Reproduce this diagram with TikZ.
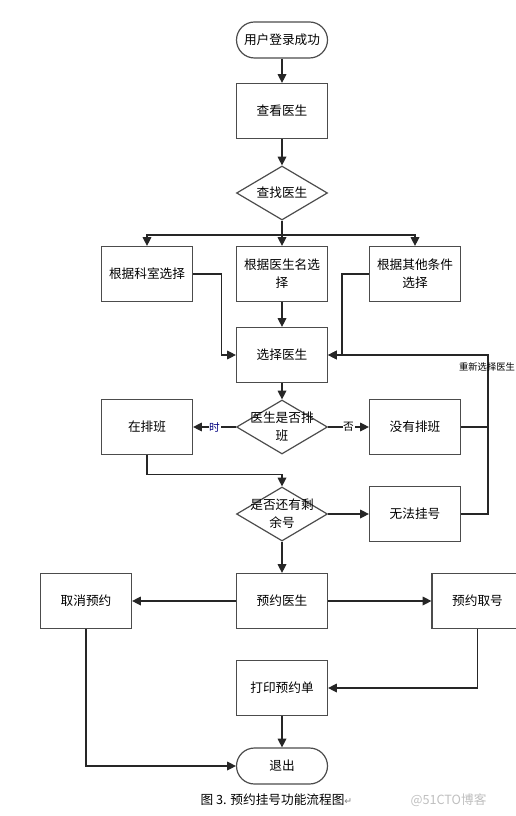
\documentclass[tikz,border=0pt]{standalone}
\usepackage{fontspec}
\newfontfamily\cjk{Noto Sans CJK SC}
\newfontfamily\symf{DejaVu Sans}
\usetikzlibrary{arrows.meta,shapes.geometric}
\begin{document}
\begin{tikzpicture}[x=0.75pt,y=-0.75pt,
  font=\cjk\fontsize{9.5}{13.5}\selectfont,
  line width=0.9pt,
  box/.style={draw=black!70, line width=0.9pt, minimum width=68.25pt, minimum height=41.25pt, inner sep=1pt, align=center},
  term/.style={draw=black!70, line width=0.9pt, rounded corners=13.5pt, minimum width=68.25pt, minimum height=27pt, inner sep=1pt, align=center},
  dia/.style={draw=black!70, line width=0.9pt, diamond, minimum width=68.25pt, minimum height=40.5pt, inner sep=0pt},
  arr/.style={draw=black!85, -{Triangle[length=6.5pt,width=6.5pt]}},
  ln/.style={draw=black!85},
  lbl/.style={fill=white, inner sep=0.5pt, font=\cjk\fontsize{8}{9}\selectfont}
]
\useasboundingbox (0,0) rectangle (516,816);

\node[term] (start) at (282,40) {用户登录成功};
\node[box] (see) at (282,111) {查看医生};
\node[dia] (find) at (282,193) {};
\node at (find) {查找医生};
\node[box] (dept) at (147,274) {根据科室选择};
\node[box] (name) at (282,274) {根据医生名选\\择};
\node[box] (other) at (415,274) {根据其他条件\\选择};
\node[box] (sel) at (282,355) {选择医生};
\node[dia] (d1) at (282,427) {};
\node[align=center] (d1t) at (d1) {医生是否排\\班};
\node[box] (on) at (147,427) {在排班};
\node[box] (off) at (415,427) {没有排班};
\node[dia] (d2) at (282,514) {};
\node[align=center] (d2t) at (d2) {是否还有剩\\余号};
\node[box] (fail) at (415,514) {无法挂号};
\node[box] (book) at (282,601) {预约医生};
\node[box] (cancel) at (86,601) {取消预约};
\node[box] (take) at (477.5,601) {预约取号};
\node[box] (print) at (282,688) {打印预约单};
\node[term] (exit) at (282,766) {退出};

\coordinate (br) at (282,235);
\coordinate (rx) at (488,355);

\draw[arr] (start) -- (see);
\draw[arr] (see) -- (find);
\draw[ln] (find.south) -- (br);
\draw[arr] (br) -| (dept.north);
\draw[arr] (br) -| (other.north);
\draw[arr] (br) -- (name.north);
\draw[arr] (name) -- (sel);
\draw[arr] (dept.east) -- ++(28,0) |- (sel.west);
\draw[arr] (other.west) -- ++(-27,0) |- (sel.east);
\draw[arr] (sel) -- (d1);
\draw[arr] (d1.west) -- node[lbl, text=blue!50!black] (tshi) {时} (on.east);
\draw[arr] (d1.east) -- node[lbl] (tfou) {否} (off.west);
\draw[arr] (on.south) -- ++(0,19) -| (d2.north);
\draw[arr] (d2.east) -- (fail.west);
\draw[ln] (off.east) -| (rx);
\draw[arr] (fail.east) -| (rx) -- (sel.east);
\node[font=\cjk\fontsize{7}{8}\selectfont, inner sep=0pt] (again) at (487,367) {重新选择医生};
\draw[arr] (d2.south) -- (book.north);
\draw[arr] (book) -- (cancel);
\draw[arr] (book) -- (take);
\draw[arr] (take.south) |- (print.east);
\draw[arr] (print) -- (exit);
\draw[arr] (cancel.south) |- (exit.west);

\node[anchor=west, inner sep=0pt] (cap) at (200,800) {图 3. 预约挂号功能流程图\textcolor{black!50}{\symf\fontsize{7}{8}\selectfont ↵}};
\node[anchor=west, inner sep=0pt, text=black!25] (wm) at (410,800) {@51CTO博客};
\end{tikzpicture}
\end{document}
